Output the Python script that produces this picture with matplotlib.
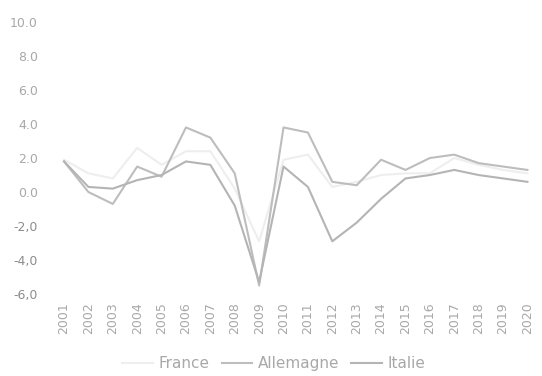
import matplotlib
matplotlib.use("Agg")
import matplotlib.pyplot as plt
import numpy as np

years = [str(y) for y in range(2001, 2021)]
france = [1.9, 1.1, 0.8, 2.6, 1.6, 2.4, 2.4, 0.2, -2.9, 1.9, 2.2, 0.3, 0.6, 1.0, 1.1, 1.1, 2.0, 1.6, 1.3, 1.1]
allemagne = [1.8, 0.0, -0.7, 1.5, 0.9, 3.8, 3.2, 1.1, -5.5, 3.8, 3.5, 0.6, 0.4, 1.9, 1.3, 2.0, 2.2, 1.7, 1.5, 1.3]
italie = [1.8, 0.3, 0.2, 0.7, 1.0, 1.8, 1.6, -0.8, -5.3, 1.5, 0.3, -2.9, -1.8, -0.4, 0.8, 1.0, 1.3, 1.0, 0.8, 0.6]
y_ticks = [10, 8, 6, 4, 2, 0, -2, -4, -6]
y_labels = ["10.0", "8.0", "6.0", "4.0", "2.0", "0.0", "-2,0", "-4,0", "-6,0"]

plt.rcParams["font.family"] = ["DejaVu Sans"]

fig = plt.figure(figsize=(5.42, 3.76), dpi=100)
ax = fig.add_axes([0.0956, 0.218, 0.9, 0.7234])

x = np.arange(len(years))
ax.plot(x, france, color="#eeeeee", lw=1.5, label="France")
ax.plot(x, allemagne, color="#bdbdbd", lw=1.5, label="Allemagne")
ax.plot(x, italie, color="#b4b4b4", lw=1.5, label="Italie")

ax.set_xlim(-0.5, len(years) - 0.5)
ax.set_ylim(-6, 10)
ax.set_xticks(x)
ax.set_xticklabels(years, rotation=90, fontsize=9, color="#a8a8a8")
ax.set_yticks(y_ticks)
ax.set_yticklabels(y_labels, fontsize=9, color="#a8a8a8")
for lbl in ax.get_yticklabels():
    if lbl.get_text().startswith("-"):
        lbl.set_color("#8c8c8c")
ax.tick_params(axis="both", length=0)
ax.tick_params(axis="y", pad=10)
ax.tick_params(axis="x", pad=6)
for s in ax.spines.values():
    s.set_visible(False)

leg = fig.legend(loc="center", bbox_to_anchor=(0.505, 0.032), ncol=3, frameon=False,
                 fontsize=11, handlelength=2.0, columnspacing=0.8, handletextpad=0.35)
for t in leg.get_texts():
    t.set_color("#a8a8a8")

fig.savefig("out.png", dpi=100)
